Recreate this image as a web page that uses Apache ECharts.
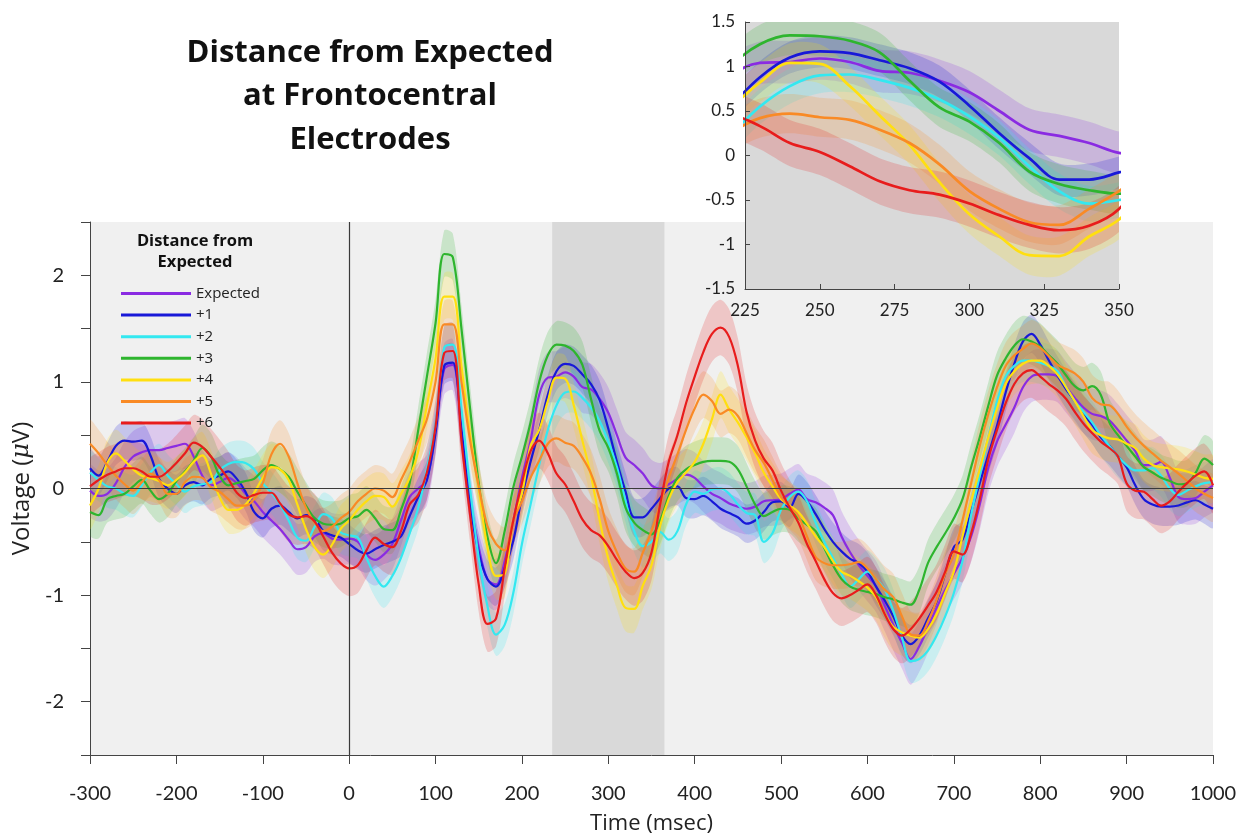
<!DOCTYPE html>
<html>
<head>
<meta charset="utf-8">
<script src="https://cdn.jsdelivr.net/npm/echarts@6/dist/echarts.min.js"></script>
<style>
html,body{margin:0;padding:0;background:#ffffff;}
#chart{width:1245px;height:840px;}
</style>
</head>
<body>
<div id="chart"></div>
<script>
// ---------------- DATA ----------------
// sample times (ms), every 10 ms from -300 to 1000
const times = Array.from({length: 131}, (_, i) => -300 + 10 * i);

const seriesNames = ['Expected', '+1', '+2', '+3', '+4', '+5', '+6'];

const expected = [
  -0.02,-0.07,-0.05,0.05,0.20,0.30,0.34,0.36,0.36,0.38,
  0.40,0.42,0.30,0.12,0.03,0.06,0.10,0.05,-0.05,-0.12,
  -0.22,-0.30,-0.38,-0.48,-0.57,-0.55,-0.45,-0.42,-0.47,-0.48,
  -0.47,-0.50,-0.62,-0.67,-0.62,-0.52,-0.30,-0.08,0.00,0.08,
  0.55,1.12,1.16,0.55,-0.10,-0.55,-0.85,-0.90,-0.68,-0.30,
  0.10,0.45,0.88,1.04,1.05,1.09,1.05,0.95,0.93,0.84,
  0.71,0.50,0.29,0.22,0.14,0.03,0.00,0.04,0.09,0.13,
  0.10,0.02,-0.05,-0.09,-0.14,-0.17,-0.19,-0.17,-0.12,-0.11,
  -0.10,-0.05,-0.01,-0.10,-0.13,-0.18,-0.25,-0.45,-0.60,-0.72,
  -0.82,-0.92,-1.10,-1.28,-1.45,-1.60,-1.48,-1.30,-1.12,-0.95,
  -0.80,-0.65,-0.45,-0.15,0.20,0.44,0.60,0.76,0.95,1.05,
  1.07,1.07,1.05,0.95,0.85,0.76,0.70,0.68,0.64,0.55,
  0.45,0.35,0.22,0.22,0.25,0.10,-0.08,-0.10,-0.09,-0.03,
  0.03
];
const plus1 = [
  0.19,0.12,0.25,0.40,0.45,0.44,0.45,0.31,0.09,0.00,
  -0.05,0.03,0.06,0.03,0.09,0.12,0.16,0.09,-0.03,-0.22,
  -0.28,-0.19,-0.16,-0.22,-0.28,-0.25,-0.28,-0.40,-0.44,-0.46,
  -0.52,-0.58,-0.61,-0.57,-0.53,-0.50,-0.45,-0.26,-0.08,0.08,
  0.52,1.15,1.18,0.55,-0.15,-0.60,-0.85,-0.92,-0.75,-0.49,
  -0.08,0.25,0.55,0.88,1.10,1.17,1.15,1.07,0.98,0.83,
  0.56,0.25,-0.03,-0.27,-0.27,-0.19,-0.09,0.00,0.02,-0.09,
  -0.10,-0.07,-0.12,-0.19,-0.23,-0.27,-0.33,-0.30,-0.22,-0.13,
  -0.12,-0.18,-0.05,-0.12,-0.24,-0.38,-0.50,-0.59,-0.66,-0.70,
  -0.78,-0.92,-1.05,-1.20,-1.38,-1.46,-1.38,-1.22,-1.06,-0.80,
  -0.55,-0.48,-0.22,0.05,0.32,0.59,0.90,1.17,1.38,1.45,
  1.35,1.20,1.06,0.93,0.82,0.70,0.60,0.48,0.40,0.30,
  0.20,0.03,-0.10,-0.15,-0.17,-0.17,-0.16,-0.13,-0.11,-0.15,
  -0.19
];
const plus2 = [
  0.15,0.08,0.02,0.00,-0.05,-0.07,0.03,0.15,0.22,0.12,
  0.04,-0.03,0.02,0.04,0.06,0.17,0.23,0.25,0.24,0.18,
  0.05,-0.04,-0.15,-0.30,-0.46,-0.49,-0.36,-0.24,-0.28,-0.41,
  -0.44,-0.46,-0.65,-0.82,-0.92,-0.82,-0.65,-0.42,-0.18,0.18,
  0.60,1.32,1.35,0.75,0.00,-0.65,-1.10,-1.37,-1.28,-0.98,
  -0.52,-0.15,0.22,0.55,0.78,0.90,0.91,0.85,0.76,0.63,
  0.44,0.20,-0.12,-0.40,-0.54,-0.50,-0.41,-0.48,-0.40,-0.15,
  -0.03,-0.05,-0.01,0.00,-0.05,-0.15,-0.23,-0.25,-0.50,-0.42,
  -0.20,-0.08,-0.03,-0.12,-0.32,-0.50,-0.65,-0.80,-0.92,-0.85,
  -0.78,-0.85,-0.95,-1.15,-1.40,-1.62,-1.60,-1.52,-1.38,-1.20,
  -0.98,-0.68,-0.25,0.12,0.48,0.82,1.05,1.15,1.20,1.20,
  1.18,1.15,1.10,0.95,0.82,0.72,0.62,0.50,0.40,0.30,
  0.22,0.17,0.17,0.19,0.12,0.00,-0.06,-0.02,0.02,0.05,
  0.06
];
const plus3 = [
  -0.22,-0.25,-0.10,-0.07,-0.05,0.02,0.08,-0.02,-0.10,-0.05,
  0.07,0.16,0.26,0.38,0.30,0.12,0.03,0.05,0.07,0.09,
  0.17,0.22,0.18,0.11,-0.03,-0.16,-0.28,-0.33,-0.34,-0.33,
  -0.28,-0.26,-0.20,-0.28,-0.38,-0.39,-0.20,0.05,0.55,1.05,
  1.55,2.20,2.17,1.50,0.75,0.05,-0.45,-0.70,-0.40,0.01,
  0.30,0.62,1.00,1.25,1.35,1.34,1.29,1.16,0.84,0.54,
  0.38,0.14,-0.18,-0.32,-0.39,-0.43,-0.30,-0.07,0.10,0.18,
  0.22,0.25,0.26,0.26,0.25,0.18,0.02,-0.15,-0.26,-0.22,
  -0.19,-0.20,-0.28,-0.34,-0.40,-0.56,-0.72,-0.85,-0.92,-0.95,
  -0.97,-0.99,-1.02,-1.04,-1.07,-1.09,-0.95,-0.70,-0.55,-0.42,
  -0.28,-0.10,0.20,0.48,0.78,1.06,1.22,1.34,1.40,1.38,
  1.33,1.25,1.17,1.06,0.96,0.92,0.96,0.88,0.62,0.50,
  0.40,0.30,0.20,0.15,0.10,0.07,0.04,0.05,0.15,0.28,
  0.22
];
const plus4 = [
  -0.16,0.00,0.24,0.33,0.26,0.18,0.12,0.10,0.07,0.03,
  0.08,0.15,0.25,0.31,0.14,-0.08,-0.20,-0.20,-0.15,-0.04,
  0.10,0.20,0.18,0.08,-0.15,-0.38,-0.55,-0.62,-0.53,-0.38,
  -0.30,-0.20,-0.12,-0.07,-0.08,-0.17,-0.05,0.10,0.35,0.78,
  1.22,1.80,1.80,1.15,0.50,0.00,-0.55,-0.82,-0.80,-0.30,
  -0.05,0.40,0.55,0.82,1.04,1.03,0.78,0.45,0.12,-0.30,
  -0.66,-0.91,-1.12,-1.13,-0.91,-0.72,-0.35,-0.10,0.06,0.15,
  0.25,0.42,0.65,0.88,0.74,0.62,0.48,0.33,0.15,0.02,
  -0.10,-0.16,-0.22,-0.33,-0.45,-0.55,-0.68,-0.78,-0.82,-0.87,
  -0.93,-1.02,-1.18,-1.30,-1.35,-1.38,-1.40,-1.32,-1.18,-0.98,
  -0.78,-0.45,-0.12,0.18,0.48,0.75,0.98,1.10,1.17,1.20,
  1.20,1.15,1.07,0.95,0.82,0.68,0.55,0.50,0.47,0.46,
  0.42,0.38,0.28,0.22,0.20,0.19,0.18,0.16,0.13,0.10,
  0.09
];
const plus5 = [
  0.42,0.33,0.22,0.12,0.04,-0.02,0.06,0.14,0.08,-0.05,
  -0.05,0.06,0.11,0.10,0.01,-0.03,-0.10,-0.16,-0.16,-0.10,
  0.05,0.32,0.42,0.30,0.05,-0.18,-0.32,-0.40,-0.36,-0.28,
  -0.22,-0.12,-0.05,0.00,-0.02,-0.08,0.08,0.25,0.45,0.65,
  1.00,1.54,1.54,1.00,0.45,0.02,-0.35,-0.52,-0.58,-0.30,
  -0.12,0.10,0.26,0.42,0.47,0.43,0.40,0.29,0.14,-0.10,
  -0.40,-0.60,-0.75,-0.78,-0.60,-0.40,-0.15,0.10,0.32,0.55,
  0.75,0.88,0.82,0.70,0.74,0.68,0.52,0.36,0.24,0.08,
  -0.08,-0.17,-0.26,-0.45,-0.64,-0.70,-0.72,-0.72,-0.71,-0.69,
  -0.75,-0.85,-0.95,-1.02,-1.20,-1.37,-1.38,-1.25,-1.05,-0.80,
  -0.62,-0.30,0.05,0.40,0.70,0.95,1.15,1.25,1.31,1.36,
  1.32,1.24,1.16,1.12,1.08,1.00,0.85,0.79,0.78,0.70,
  0.58,0.48,0.40,0.33,0.26,0.20,0.14,0.07,0.00,-0.05,
  -0.09
];
const plus6 = [
  0.02,0.08,0.13,0.16,0.19,0.19,0.16,0.11,0.11,0.16,
  0.24,0.33,0.43,0.39,0.30,0.20,0.09,-0.04,-0.09,-0.06,
  -0.04,-0.04,-0.14,-0.24,-0.27,-0.26,-0.31,-0.45,-0.60,-0.70,
  -0.75,-0.72,-0.58,-0.46,-0.52,-0.55,-0.40,-0.15,-0.06,0.15,
  0.58,1.27,1.29,0.45,-0.25,-0.90,-1.27,-1.22,-0.75,-0.30,
  0.05,0.35,0.45,0.33,0.14,0.04,-0.12,-0.29,-0.39,-0.44,
  -0.54,-0.67,-0.78,-0.84,-0.79,-0.60,-0.15,0.25,0.50,0.80,
  1.05,1.28,1.45,1.51,1.42,1.15,0.72,0.45,0.28,0.17,
  -0.02,-0.18,-0.32,-0.52,-0.68,-0.85,-0.98,-1.03,-1.00,-0.95,
  -0.90,-1.00,-1.18,-1.32,-1.38,-1.32,-1.22,-1.10,-0.97,-0.78,
  -0.59,-0.62,-0.42,-0.10,0.28,0.55,0.80,0.98,1.08,1.11,
  1.05,0.98,0.92,0.84,0.72,0.61,0.52,0.44,0.38,0.30,
  0.05,-0.02,-0.03,-0.10,-0.16,-0.12,-0.03,0.05,0.12,0.16,
  0.03
];

const seriesValues = [expected, plus1, plus2, plus3, plus4, plus5, plus6];
// half-width of the shaded error band for each condition (µV)
const bandHalfWidth = [0.24, 0.18, 0.20, 0.22, 0.22, 0.22, 0.26];
// highlighted analysis window (ms)
const highlightWindow = [235, 365];

// ---------------- STYLE ----------------
const colors = ['#8a2be2', '#1818d8', '#33e8f0', '#2eb52e', '#ffdf10', '#f98a25', '#e81c1c'];
const FONT = 'Lato';
const WIDE = 'Open Sans';
const bandOpacity = 0.2;

function lineSeries(k, axisIdx, z, width) {
  return {
    type: 'line', name: seriesNames[k], xAxisIndex: axisIdx, yAxisIndex: axisIdx, z: z,
    data: times.map((t, i) => [t, seriesValues[k][i]]),
    showSymbol: false, symbol: 'none', smooth: 0.35, clip: true, silent: true,
    color: colors[k], lineStyle: {width: width, color: colors[k]}
  };
}
function bandSeries(k, axisIdx, z) {
  return {
    type: 'custom', name: seriesNames[k] + ' band', xAxisIndex: axisIdx, yAxisIndex: axisIdx,
    z: z, clip: true, silent: true,
    data: [[300, 0]],
    encode: {x: 0, y: 1},
    renderItem: function (params, api) {
      const vals = seriesValues[k], w = bandHalfWidth[k];
      const upper = [], lower = [];
      for (let i = 0; i < times.length; i++) {
        upper.push(api.coord([times[i], vals[i] + w]));
        lower.push(api.coord([times[i], vals[i] - w]));
      }
      return {
        type: 'polygon',
        shape: {points: upper.concat(lower.reverse()), smooth: 0.3},
        style: {fill: colors[k], opacity: bandOpacity}
      };
    }
  };
}

const series = [];
// highlighted window
series.push({
  type: 'line', name: 'window', xAxisIndex: 0, yAxisIndex: 0, data: [], z: 1, silent: true,
  markArea: {silent: true, z: 1, itemStyle: {color: '#d9d9d9'},
    data: [[{xAxis: highlightWindow[0]}, {xAxis: highlightWindow[1]}]]}
});
for (let k = 0; k < seriesNames.length; k++) {
  series.push(bandSeries(k, 0, 2));
  series.push(lineSeries(k, 0, 2, 2.2));
}
// zero reference lines
series.push({
  type: 'line', name: 'zero', xAxisIndex: 0, yAxisIndex: 0, data: [], z: 5, silent: true,
  markLine: {silent: true, symbol: 'none', z: 5, label: {show: false},
    lineStyle: {color: '#3a3a3a', width: 1.2, type: 'solid'},
    data: [{yAxis: 0}, {xAxis: 0}]}
});
for (let k = 0; k < seriesNames.length; k++) {
  series.push(bandSeries(k, 1, 11));
  series.push(lineSeries(k, 1, 11, 2.7));
}

const axisColor = '#444';
const option = {
  animation: false,
  backgroundColor: '#ffffff',
  textStyle: {fontFamily: FONT},
  grid: [
    {left: 90, top: 222, width: 1123, height: 535, show: true, backgroundColor: '#f0f0f0', borderWidth: 0, z: 0},
    {left: 745, top: 22, width: 374, height: 267, show: true, backgroundColor: '#d9d9d9', borderWidth: 0, z: 10}
  ],
  xAxis: [
    {
      type: 'value', gridIndex: 0, min: -300, max: 1000, interval: 100,
      axisLine: {show: true, onZero: false, lineStyle: {color: axisColor, width: 1}},
      axisTick: {show: true, inside: false, length: 9, lineStyle: {color: axisColor}},
      axisLabel: {margin: 29, fontSize: 20, fontFamily: FONT, color: '#222', formatter: v => String(v)},
      splitLine: {show: false},
      name: 'Time (msec)', nameLocation: 'middle', nameGap: 58,
      nameTextStyle: {fontSize: 22, fontFamily: WIDE, color: '#222'}
    },
    {
      type: 'value', gridIndex: 1, min: 225, max: 350, interval: 25, z: 12,
      axisLine: {show: true, onZero: false, lineStyle: {color: axisColor, width: 1}},
      axisTick: {show: true, inside: true, length: 5, lineStyle: {color: axisColor}},
      axisLabel: {margin: 13, fontSize: 17, fontFamily: FONT, color: '#222'},
      splitLine: {show: false}
    }
  ],
  yAxis: [
    {
      type: 'value', gridIndex: 0, min: -2.5, max: 2.5, interval: 0.5,
      axisLine: {show: true, onZero: false, lineStyle: {color: axisColor, width: 1}},
      axisTick: {show: true, inside: false, length: 9, lineStyle: {color: axisColor}},
      axisLabel: {margin: 26, fontSize: 20, fontFamily: FONT, color: '#222',
        formatter: v => (Math.abs(v - Math.round(v)) < 1e-9 ? String(Math.round(v)) : '')},
      splitLine: {show: false},
      name: 'Voltage ({i|μ}V)', nameLocation: 'middle', nameRotate: 90, nameGap: 42,
      nameTextStyle: {fontSize: 24, fontFamily: WIDE, color: '#222',
        rich: {i: {fontSize: 24, fontStyle: 'italic', fontFamily: 'DejaVu Serif', color: '#222'}}}
    },
    {
      type: 'value', gridIndex: 1, min: -1.5, max: 1.5, interval: 0.5, z: 12,
      axisLine: {show: true, onZero: false, lineStyle: {color: axisColor, width: 1}},
      axisTick: {show: true, inside: true, length: 5, lineStyle: {color: axisColor}},
      axisLabel: {margin: 10, fontSize: 17, fontFamily: FONT, color: '#222'},
      splitLine: {show: false}
    }
  ],
  legend: {
    data: seriesNames, orient: 'vertical', left: 121, top: 286,
    icon: 'rect', itemWidth: 70, itemHeight: 3, itemGap: 6.6,
    selectedMode: false, padding: 0,
    textStyle: {fontFamily: WIDE, fontSize: 15, color: '#222'}
  },
  graphic: [
    {type: 'text', x: 370, y: 31, z: 20, silent: true,
      style: {text: 'Distance from Expected\nat Frontocentral\nElectrodes', textAlign: 'center', textVerticalAlign: 'top',
        font: 'bold 31px "Open Sans"', lineHeight: 43.5, fill: '#111'}},
    {type: 'text', x: 195, y: 231, z: 20, silent: true,
      style: {text: 'Distance from\nExpected', textAlign: 'center', textVerticalAlign: 'top',
        font: 'bold 16.5px "Open Sans"', lineHeight: 21, fill: '#111'}}
  ],
  series: series
};

const chart = echarts.init(document.getElementById('chart'), null, {renderer: 'canvas'});
chart.setOption(option);
</script>
</body>
</html>
